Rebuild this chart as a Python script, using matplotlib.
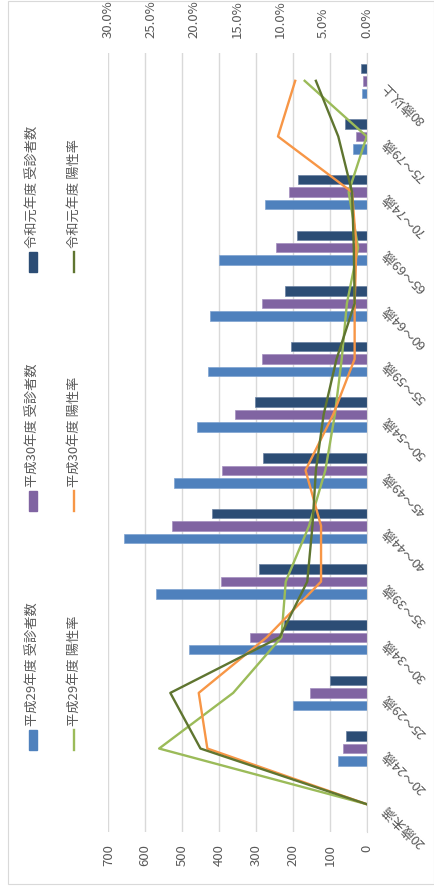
import matplotlib

matplotlib.use("Agg")
import matplotlib.pyplot as plt
import matplotlib.transforms as mtransforms
from matplotlib.lines import Line2D
from matplotlib.patches import Rectangle
from matplotlib.ticker import FuncFormatter, MultipleLocator

plt.rcParams["font.family"] = ["Noto Sans CJK JP", "DejaVu Sans"]

# chart is drawn turned 90 degrees: categories run bottom -> top
categories = ["20歳未満", "20～24歳", "25～29歳", "30～34歳", "35～39歳", "40～44歳",
              "45～49歳", "50～54歳", "55～59歳", "60～64歳", "65～69歳", "70～74歳",
              "75～79歳", "80歳以上"]
count_h29 = [0, 78, 200, 481, 571, 657, 521, 460, 431, 425, 399, 276, 36, 13]
count_h30 = [0, 64, 153, 316, 395, 528, 391, 358, 283, 284, 246, 211, 28, 11]
count_r1 = [0, 56, 99, 225, 293, 418, 282, 302, 205, 221, 189, 186, 59, 16]
rate_h29 = [0.0, 24.1, 15.5, 9.9, 9.4, 6.7, 4.8, 3.7, 2.9, 2.3, 1.0, 2.1, 0.0, 7.2]
rate_h30 = [0.0, 18.5, 19.5, 11.6, 5.3, 5.3, 7.1, 3.9, 1.4, 1.4, 1.2, 1.7, 10.3, 8.3]
rate_r1 = [0.0, 19.3, 22.8, 10.1, 6.9, 6.3, 5.9, 5.0, 3.5, 1.4, 1.5, 1.7, 3.3, 5.9]

legend_labels = [("令和元年度 受診者数", "令和元年度 陽性率"),
                 ("平成30年度 受診者数", "平成30年度 陽性率"),
                 ("平成29年度 受診者数", "平成29年度 陽性率")]

C_R1, C_H30, C_H29 = "#2c4d75", "#8064a2", "#4f81bd"
L_R1, L_H30, L_H29 = "#5f7530", "#f79646", "#9bbb59"
GRID = "#d9d9d9"
TXT = "#595959"

W, H = 435, 888
fig = plt.figure(figsize=(W / 100, H / 100), dpi=100)


def fx(px):
    return px / W


def fy(py):
    return 1 - py / H


ax = fig.add_axes([fx(108.3), fy(832), fx(366.7) - fx(108.3), fy(53) - fy(832)])
ax.set_xlim(700, 0)
ax.set_ylim(-0.5, len(categories) - 0.5)

pos = list(range(len(categories)))
step, bh = 0.224, 0.17
ax.barh([p - step for p in pos], count_h29, height=bh, color=C_H29, edgecolor="#7fa3d1", lw=0.5)
ax.barh(pos, count_h30, height=bh, color=C_H30, edgecolor="#a48fc0", lw=0.5)
ax.barh([p + step for p in pos], count_r1, height=bh, color=C_R1, edgecolor="#6a82a3", lw=0.5)

ax.xaxis.set_major_locator(MultipleLocator(100))
ax.grid(axis="x", color=GRID, lw=1.0)
ax.set_axisbelow(True)
for s in ["top", "left", "bottom"]:
    ax.spines[s].set_visible(False)
ax.spines["right"].set_color(GRID)
ax.tick_params(axis="x", length=0, pad=9, labelsize=9.5, labelcolor=TXT, labelrotation=90)
ax.set_yticks([])

# category labels, slanted
off = mtransforms.ScaledTranslation(18 / 100, -3 / 100, fig.dpi_scale_trans)
for i, lab in enumerate(categories):
    ax.text(1.0, i, lab, transform=ax.get_yaxis_transform() + off, rotation=135,
            rotation_mode="anchor", ha="right", va="center", fontsize=9.5, color=TXT)

ax2 = ax.twiny()
ax2.set_xlim(30, 0)
ax2.plot(rate_h29, pos, color=L_H29, lw=1.7)
ax2.plot(rate_h30, pos, color=L_H30, lw=1.7)
ax2.plot(rate_r1, pos, color=L_R1, lw=1.7)
ax2.xaxis.set_major_locator(MultipleLocator(5))
ax2.xaxis.set_major_formatter(FuncFormatter(lambda v, _: f"{v:.1f}%"))
for s in ax2.spines.values():
    s.set_visible(False)
ax2.tick_params(axis="x", length=0, pad=10.5, labelsize=9.5, labelcolor=TXT, labelrotation=90)

# legend, drawn by hand because the text runs vertically
bar_cols = [C_R1, C_H30, C_H29]
line_cols = [L_R1, L_H30, L_H29]
for k, (bar_lab, line_lab) in enumerate(legend_labels):
    y_top = 252 + 239 * k
    fig.patches.append(Rectangle((fx(29), fy(y_top + 20)), fx(8), fy(y_top) - fy(y_top + 20),
                                 transform=fig.transFigure, color=bar_cols[k]))
    fig.lines.append(Line2D([fx(74), fx(74)], [fy(y_top), fy(y_top + 20)],
                            transform=fig.transFigure, color=line_cols[k], lw=1.7))
    fig.text(fx(33), fy(y_top - 4), bar_lab, rotation=90, ha="center", va="bottom",
             fontsize=9.5, color=TXT)
    fig.text(fx(74), fy(y_top - 4), line_lab, rotation=90, ha="center", va="bottom",
             fontsize=9.5, color=TXT)

# chart frame
fig.patches.append(Rectangle((fx(8), fy(884)), fx(434) - fx(8), fy(1) - fy(884),
                             transform=fig.transFigure, fill=False, edgecolor=GRID, lw=0.8))

fig.savefig("out.png", dpi=100, facecolor="white")
